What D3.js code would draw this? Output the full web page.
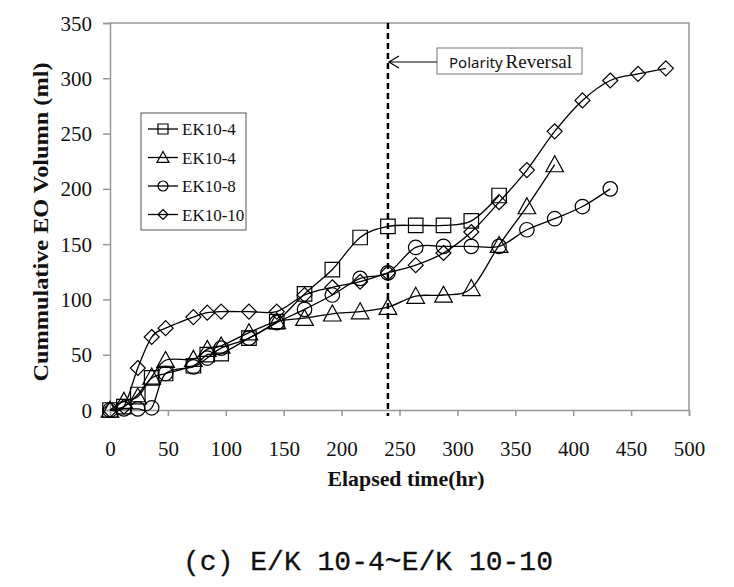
<!DOCTYPE html>
<html><head><meta charset="utf-8">
<script src="https://cdn.jsdelivr.net/npm/d3@7"></script>
<style>body{margin:0;background:#fff}svg{display:block}</style>
</head><body>
<svg id="c" width="734" height="587"></svg>
<script>
// ---- data ----
const seriesNames = ["EK10-4", "EK10-4", "EK10-8", "EK10-10"];
const symbolsUsed = ["square", "triangle", "circle", "diamond"];
const timeSquare = [0,12,24,36,48,72,84,96,120,144,168,192,216,240,264,288,312,336];
const valSquare  = [0,3,14,29,33,40,50,51,65,80,105,127,156,166,167,167,171,194];
const timeTriangle = [0,12,24,36,48,72,84,96,120,144,168,192,216,240,264,288,312,336,360,384];
const valTriangle  = [0,8,12,30,45,46,55,58,70,80,83,87,89,93,103,104,110,149,184,222];
const timeCircle = [0,12,24,36,48,72,84,96,120,144,168,192,216,240,264,288,312,336,360,384,408,432];
const valCircle  = [0,1,1,2,33,39,47,56,65,79,91,104,119,124,147,148,148,148,163,173,184,200];
const timeDiamond = [0,12,24,36,48,72,84,96,120,144,168,192,216,240,264,288,312,336,360,384,408,432,456,480];
const valDiamond  = [0,3,38,66,74,84,88,89,89,89,104,111,116,124,131,142,161,188,217,252,280,298,304,309];
const xTicks = [0,50,100,150,200,250,300,350,400,450,500];
const yTicks = [0,50,100,150,200,250,300,350];
const reversalTime = 240;
const xTitle = "Elapsed time(hr)";
const yTitle = "Cummulative EO Volumn (ml)";
const caption = "(c) E/K 10-4~E/K 10-10";

const series = [
  {name: seriesNames[0], sym: symbolsUsed[0], t: timeSquare, v: valSquare},
  {name: seriesNames[1], sym: symbolsUsed[1], t: timeTriangle, v: valTriangle},
  {name: seriesNames[2], sym: symbolsUsed[2], t: timeCircle, v: valCircle},
  {name: seriesNames[3], sym: symbolsUsed[3], t: timeDiamond, v: valDiamond}
];

const svg = d3.select("#c");
const L = 110, R = 689, T = 23, B = 410;
const x = d3.scaleLinear().domain([0,500]).range([L,R]);
const y = d3.scaleLinear().domain([0,350]).range([B,T]);
const gray = "#999";
const serif = "'Liberation Serif','Times New Roman',serif";

// frame (top & right)
svg.append("path").attr("d", `M${L},${T}H${R}V${B}`).attr("fill","none").attr("stroke",gray).attr("stroke-width",1.5);

// axes
const xAxis = svg.append("g").attr("transform",`translate(0,${B})`)
  .call(d3.axisBottom(x).tickValues(xTicks).tickSize(6).tickPadding(25).tickFormat(d3.format("d")));
const yAxis = svg.append("g").attr("transform",`translate(${L},0)`)
  .call(d3.axisLeft(y).tickValues(yTicks).tickSize(7).tickPadding(11).tickFormat(d3.format("d")));
[xAxis,yAxis].forEach(g=>{
  g.select(".domain").attr("stroke",gray).attr("stroke-width",1.5);
  g.selectAll(".tick line").attr("stroke",gray).attr("stroke-width",1.5);
  g.selectAll(".tick text").attr("fill","#111").style("font-family",serif).style("font-size","21px");
});
yAxis.selectAll(".tick text").attr("dy","0.34em");

// symbol drawing
function sym(g, type, cx, cy, s) {
  let d;
  if (type==="square") d = `M${cx-s*0.5},${cy-s*0.5}h${s}v${s}h${-s}Z`;
  else if (type==="triangle") d = `M${cx},${cy-s*0.55}L${cx+s*0.55},${cy+s*0.45}L${cx-s*0.55},${cy+s*0.45}Z`;
  else if (type==="diamond") d = `M${cx},${cy-s*0.5}L${cx+s*0.5},${cy}L${cx},${cy+s*0.5}L${cx-s*0.5},${cy}Z`;
  else { g.append("circle").attr("cx",cx).attr("cy",cy).attr("r",s*0.5)
          .attr("fill","none").attr("stroke","#000").attr("stroke-width",1.2); return; }
  g.append("path").attr("d",d).attr("fill","none").attr("stroke","#000").attr("stroke-width",1.2);
}

// lines + markers
const line = d3.line().x(d=>x(d[0])).y(d=>y(d[1])).curve(d3.curveCardinal.tension(0));
series.forEach(s=>{
  const pts = s.t.map((t,i)=>[t,s.v[i]]);
  svg.append("path").attr("d",line(pts)).attr("fill","none").attr("stroke","#000").attr("stroke-width",1.3);
  const g = svg.append("g");
  pts.forEach(p=>sym(g, s.sym, x(p[0]), y(p[1]), s.sym==="triangle"?16:(s.sym==="diamond"?15:14.5)));
});

// polarity reversal dashed line
svg.append("line").attr("x1",x(reversalTime)).attr("x2",x(reversalTime)).attr("y1",T).attr("y2",B+6)
  .attr("stroke","#000").attr("stroke-width",2.5).attr("stroke-dasharray","6,4");

// annotation box
const bx0 = 437, bx1 = 582, by0 = 48, by1 = 74, ay = 62;
svg.append("rect").attr("x",bx0).attr("y",by0).attr("width",bx1-bx0).attr("height",by1-by0)
  .attr("fill","#fff").attr("stroke","#777").attr("stroke-width",1);
const ax = x(reversalTime)+1;
svg.append("path").attr("d",`M${bx0},${ay}H${ax}M${ax+10},${ay-6}L${ax},${ay}L${ax+10},${ay+6}`)
  .attr("fill","none").attr("stroke","#000").attr("stroke-width",1.2);
const at = svg.append("text").attr("x",449).attr("y",68).attr("fill","#111").style("font-size","16px");
at.append("tspan").style("font-family","'Noto Sans','DejaVu Sans',sans-serif").style("font-size","15px").text("Polarity");
at.append("tspan").style("font-family",serif).style("font-size","19px").attr("dx",3).text("Reversal");

// legend
svg.append("rect").attr("x",141).attr("y",113).attr("width",105).attr("height",117)
  .attr("fill","#fff").attr("stroke","#555").attr("stroke-width",1);
series.forEach((s,i)=>{
  const ly = 129 + i*28.5;
  svg.append("line").attr("x1",148).attr("x2",178).attr("y1",ly).attr("y2",ly).attr("stroke","#000").attr("stroke-width",1.3);
  sym(svg, s.sym, 163, ly, s.sym==="triangle"?11:10);
  svg.append("text").attr("x",182).attr("y",ly+6).attr("fill","#111")
    .style("font-family",serif).style("font-size","17px").text(s.name);
});

// titles
svg.append("text").attr("x",406).attr("y",486).attr("text-anchor","middle")
  .attr("textLength",157).attr("lengthAdjust","spacingAndGlyphs")
  .style("font-family",serif).style("font-weight","bold").style("font-size","21px").attr("fill","#111").text(xTitle);
svg.append("text").attr("transform","translate(48,222) rotate(-90)").attr("text-anchor","middle")
  .attr("textLength",319).attr("lengthAdjust","spacingAndGlyphs")
  .style("font-family",serif).style("font-weight","bold").style("font-size","22px").attr("fill","#111").text(yTitle);
svg.append("text").attr("x",368).attr("y",570).attr("text-anchor","middle")
  .attr("textLength",370).attr("lengthAdjust","spacingAndGlyphs")
  .attr("stroke","#111").attr("stroke-width",0.3)
  .style("font-family","'Liberation Mono','DejaVu Sans Mono',monospace").style("font-size","28px").attr("fill","#111").text(caption);
</script>
</body></html>
